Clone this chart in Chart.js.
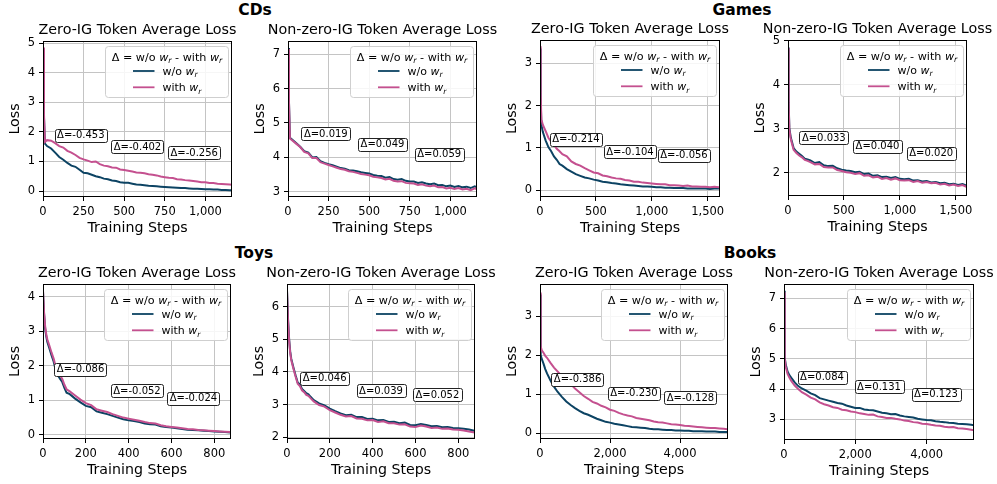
<!DOCTYPE html>
<html>
<head>
<meta charset="utf-8">
<script src="https://cdn.jsdelivr.net/npm/chart.js@4.4.1/dist/chart.umd.min.js"></script>
<style>
  body { margin: 0; background: #fff; }
  #wrap { position: relative; width: 997px; height: 484px; overflow: hidden; background: #fff; }
  #wrap canvas { position: absolute; }
  .grp { position: absolute; transform: translate(-50%, -50%); font: bold 15.5px "DejaVu Sans", sans-serif; color: #000; white-space: nowrap; }
</style>
</head>
<body>
<div id="wrap">
  <div class="grp" style="left:255px; top:10px">CDs</div>
  <div class="grp" style="left:742px; top:10px">Games</div>
  <div class="grp" style="left:254px; top:253px">Toys</div>
  <div class="grp" style="left:750px; top:253px">Books</div>
</div>
<script>
// ---- data ----
const cdsSteps = [0, 6, 12, 25, 50, 75, 100, 125, 150, 175, 200, 225, 250, 275, 300, 325, 350, 375, 400, 425,
  450, 475, 500, 525, 550, 575, 600, 625, 650, 675, 700, 725, 750, 775, 800, 825, 850, 875, 900, 925,
  950, 975, 1000, 1025, 1050, 1075, 1100, 1125, 1150, 1164];
const cdsZeroWo = [4.80, 2.5, 1.60, 1.52, 1.44, 1.30, 1.15, 1.06, 0.95, 0.86, 0.82, 0.72, 0.62,
  0.60, 0.55, 0.50, 0.47, 0.42, 0.40, 0.36, 0.34, 0.30, 0.28, 0.28, 0.25, 0.22, 0.21, 0.20, 0.18, 0.17,
  0.16, 0.15, 0.14, 0.13, 0.12, 0.11, 0.10, 0.10, 0.09, 0.08, 0.08, 0.07, 0.06, 0.06, 0.05, 0.05, 0.04,
  0.04, 0.03, 0.03];
const cdsZeroWith = [4.85, 2.6, 1.66, 1.72, 1.70, 1.62, 1.52, 1.47, 1.36, 1.30, 1.22, 1.12, 1.07,
  1.03, 0.98, 1.00, 0.91, 0.86, 0.84, 0.80, 0.79, 0.73, 0.71, 0.69, 0.66, 0.63, 0.62, 0.60, 0.57, 0.55,
  0.53, 0.49, 0.47, 0.45, 0.44, 0.40, 0.39, 0.37, 0.36, 0.34, 0.32, 0.30, 0.30, 0.27, 0.27, 0.25, 0.24,
  0.23, 0.22, 0.21];
const cdsNonzeroWo = [7.18, 5.62, 4.57, 4.52, 4.42, 4.31, 4.18, 4.14, 4.00, 4.01, 3.89, 3.84, 3.80,
  3.77, 3.73, 3.69, 3.67, 3.63, 3.62, 3.60, 3.57, 3.55, 3.53, 3.49, 3.47, 3.46, 3.41, 3.43, 3.37, 3.35,
  3.37, 3.32, 3.30, 3.30, 3.26, 3.28, 3.24, 3.22, 3.24, 3.19, 3.20, 3.16, 3.18, 3.14, 3.17, 3.13, 3.15,
  3.11, 3.16, 3.13];
const cdsNonzeroWith = [7.15, 5.6, 4.55, 4.50, 4.40, 4.30, 4.16, 4.12, 3.98, 3.98, 3.86, 3.82, 3.78,
  3.74, 3.70, 3.66, 3.64, 3.60, 3.58, 3.55, 3.52, 3.50, 3.48, 3.44, 3.42, 3.40, 3.36, 3.38, 3.32, 3.30,
  3.31, 3.26, 3.25, 3.24, 3.20, 3.22, 3.18, 3.16, 3.18, 3.13, 3.14, 3.10, 3.12, 3.08, 3.11, 3.07, 3.09,
  3.05, 3.10, 3.07];

const gamesSteps = [0, 6, 12, 25, 50, 75, 100, 125, 150, 175, 200, 240, 280, 320, 360, 400, 440, 480,
  520, 560, 600, 640, 680, 720, 760, 800, 840, 880, 920, 960, 1000, 1040, 1080, 1120, 1160, 1200, 1240,
  1280, 1320, 1360, 1400, 1440, 1480, 1520, 1560, 1600, 1605];
const gamesZeroWo = [3.35, 2.20, 1.55, 1.38, 1.18, 1.02, 0.92, 0.80, 0.72, 0.62, 0.58,
  0.50, 0.44, 0.38, 0.34, 0.30, 0.28, 0.25, 0.23, 0.20, 0.19, 0.17, 0.16, 0.14, 0.13, 0.12, 0.11, 0.10,
  0.09, 0.09, 0.08, 0.07, 0.07, 0.06, 0.06, 0.05, 0.05, 0.05, 0.04, 0.04, 0.04, 0.04, 0.04, 0.03, 0.04,
  0.04, 0.04];
const gamesZeroWith = [3.40, 2.30, 1.68, 1.55, 1.40, 1.24, 1.15, 1.07, 0.98, 0.92, 0.85,
  0.80, 0.68, 0.62, 0.58, 0.52, 0.47, 0.42, 0.40, 0.35, 0.33, 0.30, 0.28, 0.27, 0.24, 0.23, 0.20, 0.20,
  0.18, 0.17, 0.16, 0.15, 0.14, 0.14, 0.12, 0.12, 0.11, 0.10, 0.11, 0.09, 0.09, 0.08, 0.08, 0.07, 0.08,
  0.07, 0.07];
const gamesNonzeroWo = [4.85, 3.60, 3.02, 2.80, 2.56, 2.48, 2.43, 2.38, 2.32, 2.30, 2.28,
  2.22, 2.24, 2.17, 2.15, 2.16, 2.10, 2.07, 2.05, 2.04, 2.01, 2.02, 1.97, 1.98, 1.93, 1.94, 1.90, 1.91,
  1.88, 1.90, 1.86, 1.85, 1.86, 1.82, 1.83, 1.80, 1.81, 1.78, 1.79, 1.76, 1.77, 1.74, 1.75, 1.72, 1.74,
  1.70, 1.72];
const gamesNonzeroWith = [4.83, 3.55, 2.98, 2.76, 2.52, 2.45, 2.39, 2.35, 2.29, 2.27, 2.24,
  2.19, 2.20, 2.13, 2.12, 2.12, 2.06, 2.04, 2.01, 2.00, 1.97, 1.99, 1.93, 1.94, 1.89, 1.91, 1.86, 1.88,
  1.84, 1.87, 1.83, 1.82, 1.83, 1.79, 1.81, 1.77, 1.79, 1.76, 1.77, 1.73, 1.75, 1.71, 1.73, 1.70, 1.72,
  1.67, 1.69];

const toysSteps = [0, 5, 10, 15, 20, 30, 40, 50, 60, 70, 80, 90, 100, 110, 125, 150, 175, 200, 225,
  250, 275, 300, 325, 350, 375, 400, 425, 450, 475, 500, 525, 550, 575, 600, 625, 650, 675, 700, 725,
  750, 775, 800, 825, 850, 875, 878];
const toysZeroWo = [4.15, 3.50, 3.08, 2.86, 2.70, 2.50, 2.30, 2.12, 1.86, 1.72, 1.62, 1.53, 1.36, 1.22,
  1.18, 1.05, 0.94, 0.84, 0.80, 0.68, 0.64, 0.60, 0.55, 0.50, 0.45, 0.42, 0.40, 0.37, 0.33, 0.31, 0.30,
  0.25, 0.23, 0.21, 0.19, 0.17, 0.15, 0.14, 0.13, 0.12, 0.11, 0.10, 0.09, 0.08, 0.07, 0.07];
const toysZeroWith = [4.18, 3.55, 3.15, 2.92, 2.77, 2.58, 2.38, 2.20, 1.96, 1.82, 1.72, 1.62, 1.45, 1.32,
  1.26, 1.14, 1.02, 0.92, 0.86, 0.74, 0.70, 0.66, 0.60, 0.55, 0.50, 0.47, 0.44, 0.41, 0.37, 0.34, 0.33,
  0.28, 0.25, 0.23, 0.21, 0.19, 0.17, 0.16, 0.14, 0.13, 0.12, 0.11, 0.10, 0.09, 0.08, 0.08];
const toysNonzeroWo = [6.50, 5.60, 5.00, 4.62, 4.40, 4.14, 3.90, 3.68, 3.62, 3.48, 3.42, 3.35, 3.32, 3.24,
  3.14, 3.04, 2.98, 2.88, 2.80, 2.73, 2.68, 2.69, 2.62, 2.62, 2.56, 2.57, 2.52, 2.53, 2.47, 2.48, 2.43,
  2.45, 2.38, 2.37, 2.41, 2.38, 2.34, 2.35, 2.31, 2.32, 2.29, 2.28, 2.26, 2.24, 2.20, 2.21];
const toysNonzeroWith = [6.48, 5.55, 4.95, 4.58, 4.36, 4.10, 3.86, 3.64, 3.57, 3.44, 3.38, 3.30, 3.27, 3.20,
  3.10, 2.99, 2.94, 2.83, 2.76, 2.69, 2.64, 2.65, 2.58, 2.57, 2.52, 2.53, 2.47, 2.49, 2.43, 2.43, 2.39,
  2.40, 2.33, 2.32, 2.36, 2.33, 2.29, 2.30, 2.26, 2.27, 2.24, 2.23, 2.21, 2.18, 2.15, 2.16];

const booksSteps = [0, 20, 50, 100, 150, 200, 300, 400, 500, 625, 750, 875, 1000, 1125, 1250, 1375,
  1500, 1625, 1750, 1875, 2000, 2125, 2250, 2375, 2500, 2625, 2750, 2875, 3000, 3125, 3250, 3375, 3500,
  3625, 3750, 3875, 4000, 4125, 4250, 4375, 4500, 4625, 4750, 4875, 5000, 5125, 5250, 5350];
const booksZeroWo = [3.55, 2.00, 1.90, 1.78, 1.64, 1.53, 1.35, 1.19,
  1.06, 0.93, 0.81, 0.72, 0.64, 0.57, 0.51, 0.47, 0.42, 0.37, 0.33, 0.29, 0.27, 0.24, 0.22, 0.20, 0.18,
  0.16, 0.15, 0.14, 0.13, 0.11, 0.10, 0.10, 0.09, 0.08, 0.08, 0.07, 0.07, 0.06, 0.06, 0.05, 0.05, 0.05,
  0.04, 0.04, 0.04, 0.03, 0.03, 0.03];
const booksZeroWith = [3.60, 2.22, 2.12, 2.06, 1.98, 1.93, 1.80, 1.68,
  1.58, 1.46, 1.34, 1.26, 1.14, 1.05, 0.95, 0.88, 0.80, 0.76, 0.70, 0.66, 0.60, 0.57, 0.52, 0.48, 0.45,
  0.43, 0.39, 0.37, 0.35, 0.33, 0.30, 0.28, 0.27, 0.25, 0.23, 0.22, 0.21, 0.19, 0.18, 0.17, 0.16, 0.15,
  0.14, 0.13, 0.13, 0.12, 0.11, 0.10];
const booksNonzeroWo = [7.25, 5.05, 4.80, 4.58, 4.46, 4.38, 4.22, 4.10,
  4.02, 3.95, 3.86, 3.80, 3.70, 3.66, 3.62, 3.58, 3.54, 3.52, 3.46, 3.42, 3.38, 3.38, 3.33, 3.31, 3.30,
  3.26, 3.22, 3.20, 3.17, 3.18, 3.13, 3.10, 3.08, 3.06, 3.02, 3.00, 2.98, 2.97, 2.94, 2.92, 2.91, 2.89,
  2.88, 2.86, 2.85, 2.84, 2.82, 2.80];
const booksNonzeroWith = [7.20, 5.00, 4.74, 4.50, 4.38, 4.28, 4.12, 4.00,
  3.90, 3.82, 3.72, 3.66, 3.56, 3.50, 3.46, 3.40, 3.38, 3.32, 3.30, 3.26, 3.24, 3.20, 3.18, 3.15, 3.16,
  3.10, 3.08, 3.05, 3.05, 3.02, 3.00, 2.96, 2.95, 2.91, 2.90, 2.86, 2.85, 2.82, 2.80, 2.79, 2.76, 2.74,
  2.75, 2.71, 2.70, 2.68, 2.66, 2.64];

// delta labels (w/o - with) per third of training
const cdsZeroDelta = [-0.453, -0.402, -0.256];
const cdsNonzeroDelta = [0.019, 0.049, 0.059];
const gamesZeroDelta = [-0.214, -0.104, -0.056];
const gamesNonzeroDelta = [0.033, 0.040, 0.020];
const toysZeroDelta = [-0.086, -0.052, -0.024];
const toysNonzeroDelta = [0.046, 0.039, 0.052];
const booksZeroDelta = [-0.386, -0.230, -0.128];
const booksNonzeroDelta = [0.084, 0.131, 0.123];

// tick labels
const cdsStepTicks = [0, 250, 500, 750, 1000];
const gamesStepTicks = [0, 500, 1000, 1500];
const toysStepTicks = [0, 200, 400, 600, 800];
const booksStepTicks = [0, 2000, 4000];
const cdsZeroLossTicks = [0, 1, 2, 3, 4, 5];
const cdsNonzeroLossTicks = [3, 4, 5, 6, 7];
const gamesZeroLossTicks = [0, 1, 2, 3];
const gamesNonzeroLossTicks = [2, 3, 4, 5];
const toysZeroLossTicks = [0, 1, 2, 3, 4];
const toysNonzeroLossTicks = [2, 3, 4, 5, 6];
const booksZeroLossTicks = [0, 1, 2, 3];
const booksNonzeroLossTicks = [3, 4, 5, 6, 7];

const ZERO_TITLE = 'Zero-IG Token Average Loss';
const NONZERO_TITLE = 'Non-zero-IG Token Average Loss';

// ---- layout / style ----
const NAVY = '#0c4363';
const PINK = '#c4508f';
const GRID = '#c4c4c4';
const FONT = '"DejaVu Sans", sans-serif';
const Y_W = 40, X_H = 44, PAD_T = 30, PAD_R = 26;

Chart.defaults.font.family = FONT;
Chart.defaults.color = '#000';

const panels = [
  { L: 43, T: 41, R: 232, B: 197, steps: cdsSteps, wo: cdsZeroWo, wi: cdsZeroWith, xMax: 1164, xTicks: cdsStepTicks,
    yMin: -0.2, yMax: 5.07, yTicks: cdsZeroLossTicks, title: ZERO_TITLE, delta: cdsZeroDelta, noteY: [0.603, 0.678, 0.716] },
  { L: 288, T: 41, R: 477, B: 197, steps: cdsSteps, wo: cdsNonzeroWo, wi: cdsNonzeroWith, xMax: 1164, xTicks: cdsStepTicks,
    yMin: 2.85, yMax: 7.38, yTicks: cdsNonzeroLossTicks, title: NONZERO_TITLE, delta: cdsNonzeroDelta, noteY: [0.596, 0.662, 0.726] },
  { L: 540, T: 40, R: 720, B: 197, steps: gamesSteps, wo: gamesZeroWo, wi: gamesZeroWith, xMax: 1610, xTicks: gamesStepTicks,
    yMin: -0.16, yMax: 3.55, yTicks: gamesZeroLossTicks, title: ZERO_TITLE, delta: gamesZeroDelta, noteY: [0.632, 0.713, 0.734] },
  { L: 788, T: 40, R: 967, B: 196, steps: gamesSteps, wo: gamesNonzeroWo, wi: gamesNonzeroWith, xMax: 1600, xTicks: gamesStepTicks,
    yMin: 1.47, yMax: 5.02, yTicks: gamesNonzeroLossTicks, title: NONZERO_TITLE, delta: gamesNonzeroDelta, noteY: [0.626, 0.68, 0.726] },
  { L: 43, T: 284, R: 231, B: 439, steps: toysSteps, wo: toysZeroWo, wi: toysZeroWith, xMax: 878, xTicks: toysStepTicks,
    yMin: -0.12, yMax: 4.37, yTicks: toysZeroLossTicks, title: ZERO_TITLE, delta: toysZeroDelta, noteY: [0.549, 0.689, 0.736] },
  { L: 287, T: 284, R: 475, B: 439, steps: toysSteps, wo: toysNonzeroWo, wi: toysNonzeroWith, xMax: 878, xTicks: toysStepTicks,
    yMin: 1.95, yMax: 6.69, yTicks: toysNonzeroLossTicks, title: NONZERO_TITLE, delta: toysNonzeroDelta, noteY: [0.607, 0.687, 0.715] },
  { L: 540, T: 284, R: 728, B: 439, steps: booksSteps, wo: booksZeroWo, wi: booksZeroWith, xMax: 5370, xTicks: booksStepTicks,
    yMin: -0.15, yMax: 3.82, yTicks: booksZeroLossTicks, title: ZERO_TITLE, delta: booksZeroDelta, noteY: [0.614, 0.704, 0.732] },
  { L: 784, T: 284, R: 974, B: 440, steps: booksSteps, wo: booksNonzeroWo, wi: booksNonzeroWith, xMax: 5330, xTicks: booksStepTicks,
    yMin: 2.32, yMax: 7.47, yTicks: booksNonzeroLossTicks, title: NONZERO_TITLE, delta: booksNonzeroDelta, noteY: [0.598, 0.658, 0.707] },
];

// draw text made of pieces (normal / italic / subscript), mimicking mathtext
function drawRuns(ctx, runs, x, y, size, align) {
  const fontOf = r => (r.it ? 'italic ' : '') + (r.sub ? size * 0.7 : size) + 'px ' + FONT;
  let total = 0;
  runs.forEach(r => { ctx.font = fontOf(r); total += ctx.measureText(r.t).width; });
  let cx = align === 'center' ? x - total / 2 : x;
  ctx.textAlign = 'left';
  ctx.textBaseline = 'alphabetic';
  const base = y + size * 0.36;
  runs.forEach(r => {
    ctx.font = fontOf(r);
    ctx.fillText(r.t, cx, base + (r.sub ? size * 0.22 : 0));
    cx += ctx.measureText(r.t).width;
  });
}

const wr = [{ t: 'w', it: 1 }, { t: 'r', it: 1, sub: 1 }];

function decor(p) {
  return {
    id: 'decor',
    afterDatasetsDraw(chart) {
      const { ctx, chartArea: a } = chart;
      const w = a.right - a.left, h = a.bottom - a.top;
      ctx.save();
      // axes frame
      ctx.strokeStyle = '#000';
      ctx.lineWidth = 1;
      ctx.strokeRect(a.left + 0.5, a.top + 0.5, w - 1, h - 1);

      // delta boxes
      ctx.font = '10px ' + FONT;
      p.delta.forEach((d, k) => {
        const txt = '\u0394=' + d.toFixed(3);
        const tw = ctx.measureText(txt).width;
        const cx = a.left + [0.2, 0.5, 0.8][k] * w;
        const cy = a.top + p.noteY[k] * h;
        const bw = tw + 5, bh = 13;
        ctx.beginPath();
        ctx.roundRect(Math.round(cx - bw / 2) + 0.5, Math.round(cy - bh / 2) + 0.5, Math.round(bw), bh, 2);
        ctx.fillStyle = '#fff';
        ctx.fill();
        ctx.strokeStyle = '#222';
        ctx.lineWidth = 1;
        ctx.stroke();
        ctx.fillStyle = '#000';
        ctx.textAlign = 'center';
        ctx.textBaseline = 'middle';
        ctx.fillText(txt, cx, cy + 0.5);
      });

      // legend
      const lw = 123, lh = 51;
      const lx = Math.round(a.right - 4.5 - lw) + 0.5, ly = Math.round(a.top + 5) + 0.5;
      ctx.beginPath();
      ctx.roundRect(lx, ly, lw, lh, 3);
      ctx.fillStyle = 'rgba(255,255,255,0.85)';
      ctx.fill();
      ctx.strokeStyle = '#cfcfcf';
      ctx.stroke();
      ctx.fillStyle = '#000';
      drawRuns(ctx, [{ t: '\u0394 = w/o ' }, ...wr, { t: ' - with ' }, ...wr], lx + lw / 2, ly + 10, 11.2, 'center');
      [[NAVY, 'w/o '], [PINK, 'with ']].forEach(([c, t], k) => {
        const ey = ly + 24.5 + k * 16.3;
        ctx.strokeStyle = c;
        ctx.lineWidth = 1.8;
        ctx.beginPath();
        ctx.moveTo(lx + 27.5, ey);
        ctx.lineTo(lx + 49, ey);
        ctx.stroke();
        ctx.fillStyle = '#000';
        drawRuns(ctx, [{ t }, ...wr], lx + 57, ey, 11, 'left');
      });

      // panel title
      ctx.fillStyle = '#000';
      ctx.font = '14.3px ' + FONT;
      ctx.textAlign = 'center';
      ctx.textBaseline = 'middle';
      ctx.fillText(p.title, a.left + w / 2, a.top - 11);
      ctx.restore();
    }
  };
}

const wrap = document.getElementById('wrap');
panels.forEach(p => {
  const cv = document.createElement('canvas');
  const cw = (p.R - p.L) + Y_W + PAD_R, ch = (p.B - p.T) + PAD_T + X_H;
  cv.width = cw;
  cv.height = ch;
  cv.style.left = (p.L - Y_W) + 'px';
  cv.style.top = (p.T - PAD_T) + 'px';
  cv.style.width = cw + 'px';
  cv.style.height = ch + 'px';
  wrap.appendChild(cv);

  const line = (vals, color) => ({
    data: p.steps.map((s, i) => ({ x: s, y: vals[i] })),
    borderColor: color,
    borderWidth: 2,
    pointRadius: 0,
    tension: 0,
    fill: false
  });

  new Chart(cv, {
    type: 'line',
    data: { datasets: [line(p.wi, PINK), line(p.wo, NAVY)] },
    options: {
      responsive: false,
      animation: false,
      events: [],
      layout: { padding: { top: PAD_T, right: PAD_R, left: 0, bottom: 0 } },
      plugins: { legend: { display: false }, tooltip: { enabled: false } },
      scales: {
        x: {
          type: 'linear',
          min: 0,
          max: p.xMax,
          afterBuildTicks: s => { s.ticks = p.xTicks.map(v => ({ value: v })); },
          afterFit: s => { s.height = X_H; },
          ticks: { font: { size: 11.5 }, color: '#000', padding: 4, maxRotation: 0, autoSkip: false,
                   callback: v => v.toLocaleString('en-US') },
          grid: { color: GRID, lineWidth: 1, tickColor: '#000', tickLength: 4, tickWidth: 1 },
          border: { display: false },
          title: { display: true, text: 'Training Steps', font: { size: 14.2 }, color: '#000', padding: { top: 0, bottom: 4 } }
        },
        y: {
          type: 'linear',
          min: p.yMin,
          max: p.yMax,
          afterBuildTicks: s => { s.ticks = p.yTicks.map(v => ({ value: v })); },
          afterFit: s => { s.width = Y_W; },
          ticks: { font: { size: 11.5 }, color: '#000', padding: 4, autoSkip: false, callback: v => String(v) },
          grid: { color: GRID, lineWidth: 1, tickColor: '#000', tickLength: 4, tickWidth: 1 },
          border: { display: false },
          title: { display: true, text: 'Loss', font: { size: 14.2 }, color: '#000', padding: { top: 4, bottom: 0 } }
        }
      }
    },
    plugins: [decor(p)]
  });
});
</script>
</body>
</html>
